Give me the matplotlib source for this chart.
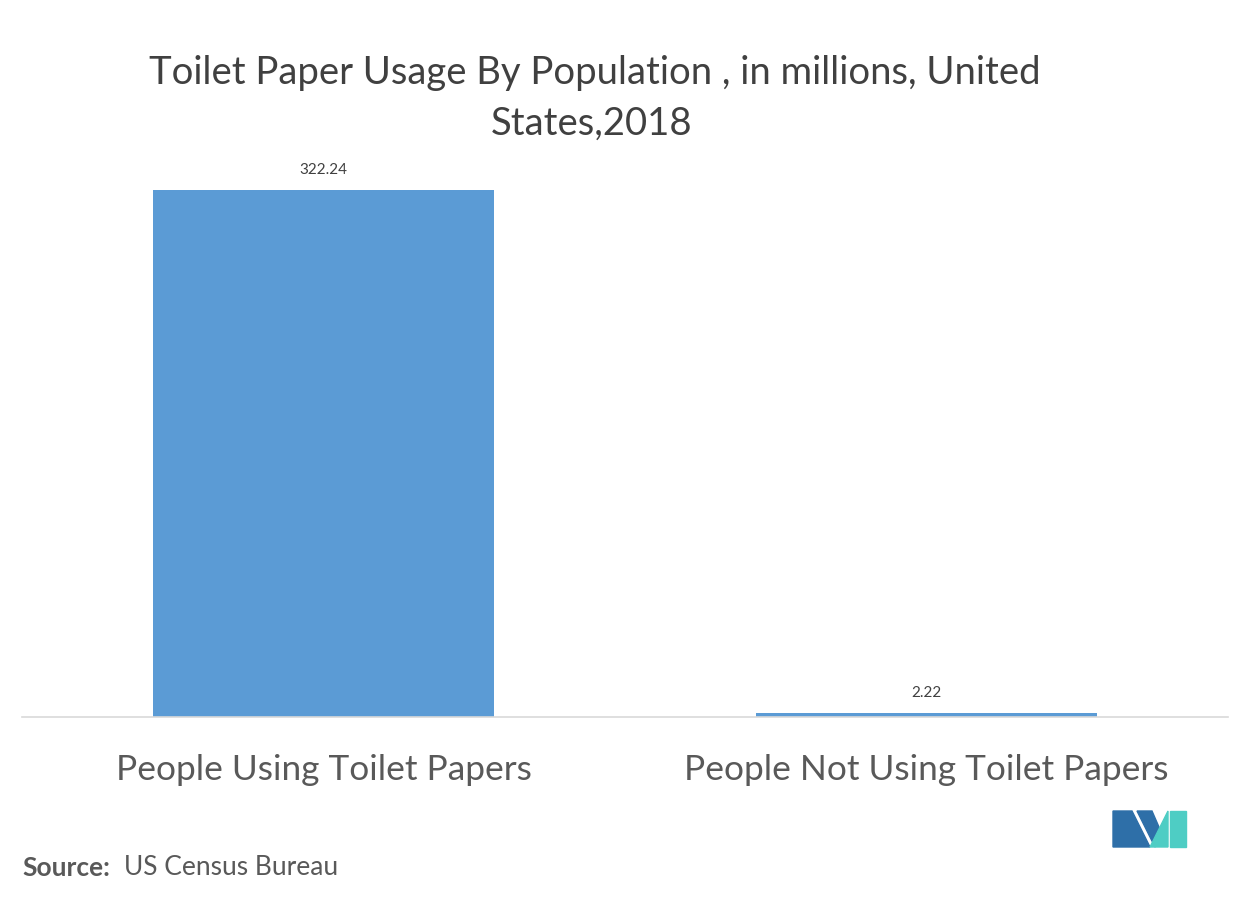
import matplotlib.pyplot as plt
from matplotlib.patches import Polygon

categories = ["People Using Toilet Papers", "People Not Using Toilet Papers"]
values = [322.24, 2.22]
labels = ["322.24", "2.22"]

W, H = 1253, 904
fig = plt.figure(figsize=(W / 100, H / 100), dpi=100)
plt.rcParams['font.family'] = ['Lato', 'DejaVu Sans']

ax = fig.add_axes([22 / W, 1 - 718 / H, 1206 / W, (718 - 191) / H])
ax.bar(range(len(values)), values, width=0.566, color='#5b9bd5')
ax.set_xlim(-0.5, 1.5)
ax.set_ylim(0, values[0])
for i, (v, t) in enumerate(zip(values, labels)):
    ax.annotate(t, (i, v), xytext=(0, 10), textcoords='offset points',
                ha='center', va='bottom', fontsize=11, color='#404040',
                annotation_clip=False)
ax.set_xticks(range(len(values)))
ax.set_xticklabels(categories, fontsize=25.4, color='#595959')
ax.tick_params(axis='x', length=0, pad=26)
ax.set_yticks([])
for s in ['top', 'left', 'right']:
    ax.spines[s].set_visible(False)
ax.spines['bottom'].set_color('#d9d9d9')
ax.spines['bottom'].set_linewidth(1.2)

fig.text(595 / W, 1 - 73 / H, "Toilet Paper Usage By Population , in millions, United",
         ha='center', va='center', fontsize=27.5, color='#404040')
fig.text(592 / W, 1 - 124 / H, "States,2018",
         ha='center', va='center', fontsize=27.5, color='#404040')

fig.text(22 / W, 1 - 868 / H, "Source:", fontsize=19, color='#595959',
         fontweight='bold', va='center')
fig.text(124 / W, 1 - 868 / H, "US Census Bureau", fontsize=19, color='#595959',
         va='center')

# logo
def px(pts):
    return [(x / W, 1 - y / H) for x, y in pts]
fig.patches.append(Polygon(px([(1113, 848), (1113, 812), (1132, 812), (1150, 848)]),
                           closed=True, color='#2e6fa8', transform=fig.transFigure))
fig.patches.append(Polygon(px([(1137, 812), (1152, 812), (1162, 835), (1155, 848)]),
                           closed=True, color='#2e6fa8', transform=fig.transFigure))
fig.patches.append(Polygon(px([(1150, 848), (1168, 812), (1168, 848)]),
                           closed=True, color='#4ecdc4', transform=fig.transFigure))
fig.patches.append(Polygon(px([(1170, 812), (1186, 812), (1186, 848), (1170, 848)]),
                           closed=True, color='#4ecdc4', transform=fig.transFigure))

fig.savefig('out.png', dpi=100, facecolor='white')
